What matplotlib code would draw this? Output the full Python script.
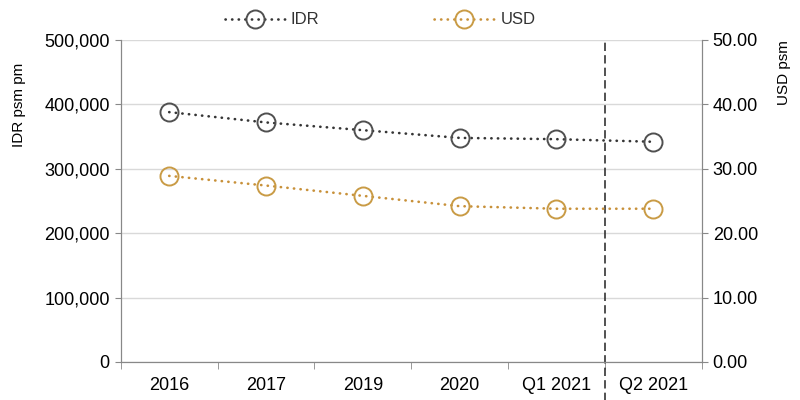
import matplotlib.pyplot as plt
import matplotlib.transforms as mtransforms
from matplotlib.ticker import FuncFormatter, FixedLocator

plt.rcParams['font.family'] = ['Liberation Sans', 'DejaVu Sans']

categories = ['2016', '2017', '2019', '2020', 'Q1 2021', 'Q2 2021']
idr = [388000, 372000, 360000, 348000, 346000, 342000]
usd = [28.9, 27.4, 25.8, 24.2, 23.8, 23.8]

idr_col = '#353535'
usd_col = '#c8913a'

fig = plt.figure(figsize=(8, 4), dpi=100)
ax = fig.add_axes([0.151, 0.095, 0.726, 0.805])
ax2 = ax.twinx()

x = list(range(len(categories)))
dot = (0, (0.1, 2.4))
l1, = ax.plot(x, idr, color=idr_col, lw=1.9, linestyle=dot, dash_capstyle='round',
              marker='o', ms=13, mfc='none', mec='#505050', mew=1.4, label='IDR')
l2, = ax2.plot(x, usd, color=usd_col, lw=1.9, linestyle=dot, dash_capstyle='round',
               marker='o', ms=13, mfc='none', mec='#c99b45', mew=1.4, label='USD')

ax.set_xlim(-0.5, len(categories) - 0.5)
ax.set_ylim(0, 500000)
ax2.set_ylim(0, 50)
ax.set_yticks(range(0, 500001, 100000))
ax2.set_yticks(range(0, 51, 10))
ax.yaxis.set_major_formatter(FuncFormatter(lambda v, p: f'{int(v):,}'))
ax2.yaxis.set_major_formatter(FuncFormatter(lambda v, p: f'{v:.2f}'))

ax.set_xticks(x)
ax.set_xticklabels(categories)
ax.xaxis.set_minor_locator(FixedLocator([i - 0.5 for i in range(len(categories) + 1)]))
ax.tick_params(axis='x', which='major', length=0, pad=11, labelsize=13)
ax.tick_params(axis='x', which='minor', length=5, color='#888888')
ax.tick_params(axis='y', length=4, color='#888888', labelsize=13, pad=4)
ax2.tick_params(axis='y', length=4, color='#888888', labelsize=13, pad=4)

ax.grid(axis='y', color='#d9d9d9', lw=1)
ax.set_axisbelow(True)
for a in (ax, ax2):
    a.spines['top'].set_visible(False)
    for s in ('left', 'right', 'bottom'):
        a.spines[s].set_color('#888888')

ax.set_ylabel('IDR psm pm', fontsize=11)
ax.yaxis.set_label_coords(-0.163, 0.80)
ax2.set_ylabel('USD psm', fontsize=11)
ax2.yaxis.set_label_coords(1.13, 0.90)

trans = mtransforms.blended_transform_factory(ax.transData, ax.transAxes)
ax.plot([4.5, 4.5], [-0.125, 1.0], transform=trans, color='#333333', lw=1.2,
        linestyle=(0, (5, 2.5)), clip_on=False)

leg = fig.legend(handles=[l1, l2], loc='center left', ncol=2, frameon=False,
                 bbox_to_anchor=(225 / 800, 1 - 20 / 400), fontsize=12,
                 columnspacing=6.9, handlelength=3.6, handletextpad=0.35,
                 borderpad=0, borderaxespad=0)
for t in leg.get_texts():
    t.set_color('#333333')

fig.savefig('out.png', dpi=100)
